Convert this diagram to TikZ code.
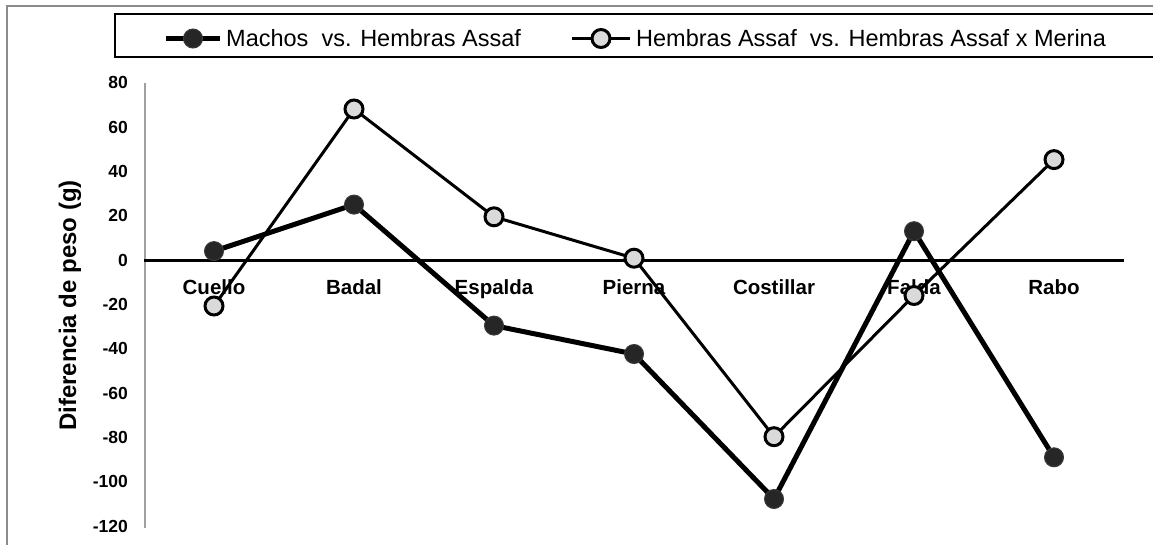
\documentclass[tikz,border=0pt]{standalone}
\usepackage{fontspec}
\setmainfont{Liberation Sans}
\definecolor{framegray}{HTML}{8C8C8C}
\definecolor{axisgray}{HTML}{A0A0A0}
\definecolor{darkfill}{HTML}{262626}
\definecolor{darkedge}{HTML}{3A3A3A}
\definecolor{lightfill}{HTML}{DADADA}
\tikzset{
  ticklbl/.style={anchor=east,inner sep=0pt,font=\fontsize{17.5}{20}\selectfont\bfseries},
  catlbl/.style={anchor=base,inner sep=0pt,font=\fontsize{20.5}{23}\selectfont\bfseries},
  legtxt/.style={anchor=base west,inner sep=0pt,font=\fontsize{23.5}{26}\selectfont},
  mline/.style={line width=5pt,black,line join=round},
  hline/.style={line width=3pt,black,line join=round},
  mmark/.style={circle,fill=darkfill,draw=darkedge,line width=1pt,minimum size=19pt,inner sep=0pt},
  hmark/.style={circle,fill=lightfill,draw=black,line width=3pt,minimum size=18pt,inner sep=0pt},
}
\begin{document}
\begin{tikzpicture}[x=1pt,y=-1pt]
\useasboundingbox (0,0) rectangle (1153,544);
\fill[white] (0,0) rectangle (1153,544);
% outer chart frame
\draw[framegray,line width=1.5pt] (7,560) -- (7,6) -- (1170,6);
% legend box
\draw[black,line width=1.5pt] (1170,14) -- (115,14) -- (115,57) -- (1170,57);
\coordinate (la1) at (166,38.5);
\coordinate (la2) at (220,38.5);
\coordinate (lb1) at (572,38.5);
\coordinate (lb2) at (630,38.5);
\draw[mline] (la1) -- (la2);
\node[mmark] (lam) at (193,38.5) {};
\node[legtxt] (lat) at (226,46) {Machos\ \ vs. Hembras Assaf};
\draw[hline] (lb1) -- (lb2);
\node[hmark] (lbm) at (601,38.5) {};
\node[legtxt] (lbt) at (636,46) {Hembras Assaf\ \ vs. Hembras Assaf x Merina};
% y axis title
\node[rotate=90,inner sep=0pt,font=\fontsize{24}{27}\selectfont\bfseries] (ytitle) at (70,305.5) {Diferencia de peso (g)};
% tick labels
\foreach \v/\t in {80/80,60/60,40/40,20/20,0/0,-20/-20,-40/-40,-60/-60,-80/-80,-100/-100,-120/-120}{
  \node[ticklbl] (tk\t) at (128,{260-2.2167*\v}) {\t};
}
% axes
\coordinate (ya1) at (145,82.7);
\coordinate (ya2) at (145,527.7);
\draw[axisgray,line width=1.6pt] (ya1) -- (ya2);
% category labels
\foreach \x/\n in {214/Cuello,354/Badal,494/Espalda,634/Pierna,774/Costillar,914/Falda,1054/Rabo}{
  \node[catlbl] (c\n) at (\x,294) {\n};
}
\coordinate (xa1) at (144,260);
\coordinate (xa2) at (1124,260);
\draw[black,line width=3pt] (xa1) -- (xa2);
% Machos series
\coordinate (m1) at (214,251.1);
\coordinate (m2) at (354,204.6);
\coordinate (m3) at (494,325.6);
\coordinate (m4) at (634,354.0);
\coordinate (m5) at (774,499.0);
\coordinate (m6) at (914,231.2);
\coordinate (m7) at (1054,457.3);
\draw[mline] (m1) -- (m2) -- (m3) -- (m4) -- (m5) -- (m6) -- (m7);
\foreach \i in {1,...,7}{\node[mmark] (M\i) at (m\i) {};}
% Hembras series
\coordinate (h1) at (214,306.0);
\coordinate (h2) at (354,109.0);
\coordinate (h3) at (494,216.8);
\coordinate (h4) at (634,258.2);
\coordinate (h5) at (774,436.7);
\coordinate (h6) at (914,295.5);
\coordinate (h7) at (1054,159.6);
\draw[hline] (h1) -- (h2) -- (h3) -- (h4) -- (h5) -- (h6) -- (h7);
\foreach \i in {1,...,7}{\node[hmark] (H\i) at (h\i) {};}
\end{tikzpicture}
\end{document}
